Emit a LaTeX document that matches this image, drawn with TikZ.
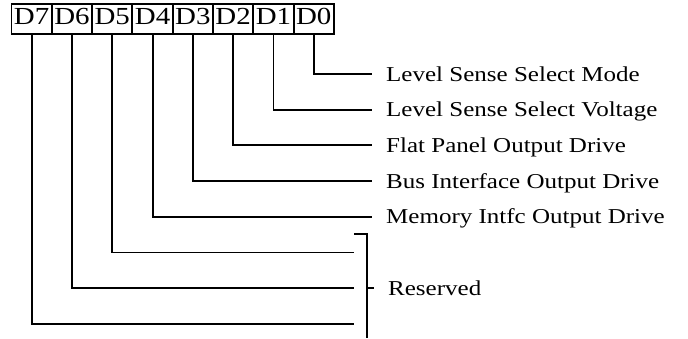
\documentclass[tikz,border=0pt]{standalone}
\usepackage{fontspec}
\setmainfont[FakeStretch=1.18]{Liberation Serif}
\begin{document}
\begin{tikzpicture}[x=1pt,y=-1pt,
  ln/.style={line width=1.9pt},
  bit/.style={draw,line width=1.9pt,rectangle,minimum width=40.3pt,minimum height=30pt,inner sep=0pt,font=\fontsize{24.5}{24.5}\selectfont},
  lab/.style={anchor=base west,inner sep=0pt,font=\fontsize{21.2}{21.2}\selectfont}]
\useasboundingbox (0,0) rectangle (688,338);
% bit boxes
\foreach \i/\n in {0/7,1/6,2/5,3/4,4/3,5/2,6/1,7/0}{
  \node[bit] (b\n) at ({11.5+40.3*(\i+0.5)},19) {\raisebox{-0.35\height}[0pt][0pt]{D\n}};
}
% line ends
\foreach \n in {0,...,4}{
  \coordinate (e\n) at (372,{74+35.7*\n});
}
\foreach \n in {5,6,7}{
  \coordinate (e\n) at (354,{74+35.7*\n});
}
\foreach \n in {0,...,7}{
  \draw[ln] (b\n.south) |- (e\n);
}
% labels
\node[lab] (l0) at (386,{74+7}) {Level Sense Select Mode};
\node[lab] (l1) at (386,{74+35.7+7}) {Level Sense Select Voltage};
\node[lab] (l2) at (386,{74+2*35.7+7}) {Flat Panel Output Drive};
\node[lab] (l3) at (386,{74+3*35.7+7}) {Bus Interface Output Drive};
\node[lab] (l4) at (386,{74+4*35.7+7}) {Memory Intfc Output Drive};
% reserved bracket
\coordinate (bt) at (354,234.3);
\coordinate (bb) at (367,338);
\coordinate (bm) at (367,{74+6*35.7});
\coordinate (bx) at (374,{74+6*35.7});
\draw[ln] (bt) -| (bb);
\draw[ln] (bm) -- (bx);
\node[lab] (lr) at (388,{74+6*35.7+7}) {Reserved};
\end{tikzpicture}
\end{document}
